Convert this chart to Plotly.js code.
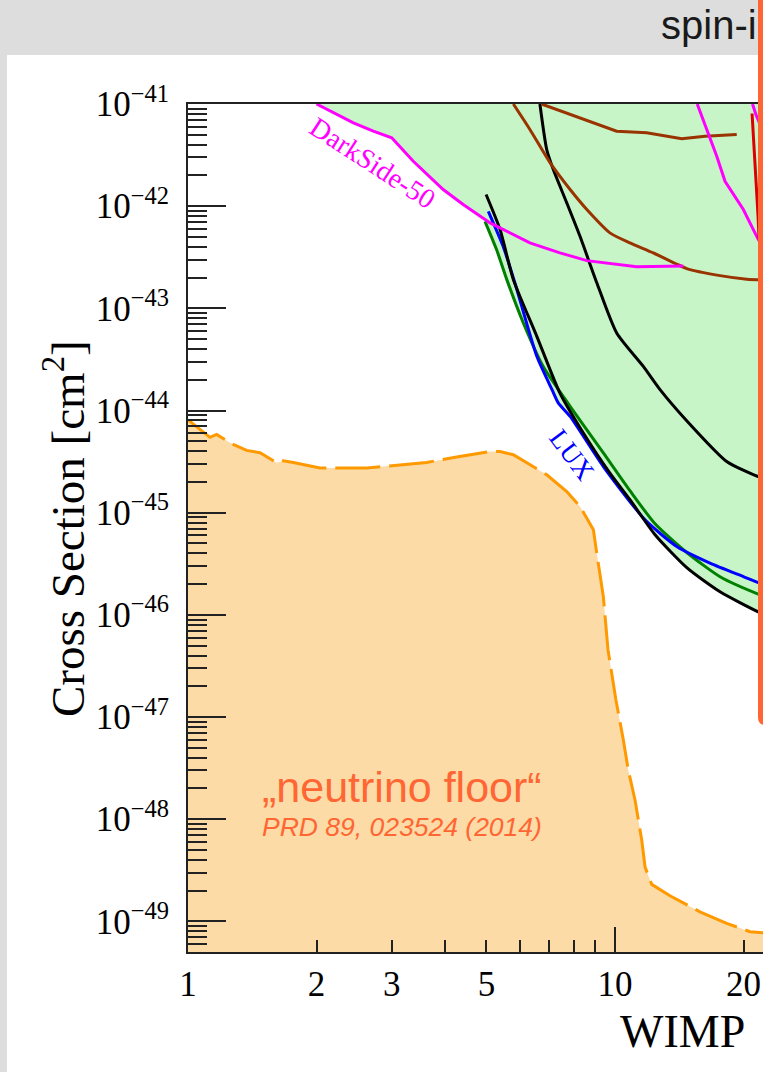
<!DOCTYPE html>
<html>
<head>
<meta charset="utf-8">
<script src="https://cdn.plot.ly/plotly-3.0.1.min.js"></script>
<style>
html,body{margin:0;padding:0;overflow:hidden;background:#dddddd;}
#chart{width:763px;height:1072px;}
</style>
</head>
<body>
<div id="chart"></div>
<script>
// ---------------- data (WIMP mass in GeV/c^2, cross section in cm^2) ----------------
const massTickVals  = [1, 2, 3, 5, 10, 20];
const massTickText  = ['1', '2', '3', '5', '10', '20'];
const massMinorVals = [4, 6, 7, 8, 9];
const massLongTick  = [10];

const sigmaTickVals = [1e-41, 1e-42, 1e-43, 1e-44, 1e-45, 1e-46, 1e-47, 1e-48, 1e-49];
const sigmaTickText = ['10<sup>\u221241</sup>', '10<sup>\u221242</sup>', '10<sup>\u221243</sup>',
                       '10<sup>\u221244</sup>', '10<sup>\u221245</sup>', '10<sup>\u221246</sup>',
                       '10<sup>\u221247</sup>', '10<sup>\u221248</sup>', '10<sup>\u221249</sup>'];

// neutrino floor (PRD 89, 023524)
const nuMass  = [1.00, 1.126, 1.167, 1.266, 1.372, 1.475, 1.614, 1.672, 1.765, 1.931, 2.038, 2.62, 2.92,
                 3.62, 4.26, 5.10, 5.38, 5.78, 6.92, 7.71, 8.28, 8.90, 9.06, 9.39, 9.63, 10.05, 10.46,
                 10.74, 11.14, 11.55, 11.76, 12.19, 13.45, 15.81, 18.26, 20.72, 22.22, 25.0];
const nuSigma = [8.1e-45, 5.46e-45, 5.83e-45, 4.73e-45, 4.07e-45, 3.86e-45, 3.08e-45, 3.22e-45, 3.10e-45,
                 2.84e-45, 2.74e-45, 2.74e-45, 2.84e-45, 3.10e-45, 3.51e-45, 3.97e-45, 3.97e-45, 3.69e-45,
                 2.35e-45, 1.61e-45, 1.15e-45, 6.81e-46, 4.05e-46, 1.51e-46, 4.54e-47, 1.47e-47, 5.97e-48,
                 3.03e-48, 1.54e-48, 6.25e-49, 3.40e-49, 2.30e-49, 1.78e-49, 1.24e-49, 9.57e-50, 7.91e-50,
                 7.74e-50, 7.6e-50];

// boundary of the excluded (green) region
const exclMass  = [2.00, 2.44, 2.716, 3.0, 3.37, 3.96, 4.41, 4.83, 4.96, 5.28, 5.58, 6.10, 6.79, 7.37, 7.85,
                   9.39, 10.84, 12.41, 14.75, 17.62, 21.86, 24.35, 30, 30, 2.00];
const exclSigma = [1e-41, 6.55e-42, 5.42e-42, 4.67e-42, 2.75e-42, 1.455e-42, 1.04e-42, 8.09e-43, 7.11e-43,
                   3.76e-43, 1.91e-43, 7.19e-44, 2.70e-44, 1.18e-44, 8.75e-45, 2.83e-45, 1.34e-45, 6.08e-46,
                   2.88e-46, 1.68e-46, 1.05e-46, 8.93e-47, 8e-47, 1e-40, 1e-40];

// DarkSide-50 (magenta)
const ds50Mass  = [2.00, 2.44, 2.716, 3.0, 3.37, 3.96, 4.41, 4.83, 5.10, 6.32, 7.43, 8.59, 11.24, 14.45];
const ds50Sigma = [1e-41, 6.55e-42, 5.42e-42, 4.67e-42, 2.75e-42, 1.455e-42, 1.04e-42, 8.09e-43, 6.86e-43,
                   4.37e-43, 3.49e-43, 2.93e-43, 2.55e-43, 2.59e-43];
const magBMass  = [15.58, 16.54, 17.31, 18.10, 19.98, 20.9, 21.66, 23.07];
const magBSigma = [1e-41, 5.22e-42, 3.08e-42, 1.75e-42, 9.27e-43, 6.35e-43, 4.71e-43, 3.0e-43];
const magCMass  = [20.99, 21.38, 21.86];
const magCSigma = [1e-41, 7.89e-42, 6.3e-42];

// brown curves
const brownAMass  = [5.78, 6.32, 7.05, 7.85, 8.59, 9.73, 10.84, 12.29, 14.72, 17.62, 20.35, 23.07];
const brownASigma = [1e-41, 5.63e-42, 2.65e-42, 1.455e-42, 9.27e-43, 5.48e-43, 4.37e-43, 3.49e-43,
                     2.45e-43, 2.09e-43, 1.93e-43, 1.89e-43];
const brownBMass  = [6.73, 7.85, 10.09, 11.86, 14.33, 16.25, 19.28];
const brownBSigma = [1e-41, 7.89e-42, 5.42e-42, 5.22e-42, 4.56e-42, 4.84e-42, 5.03e-42];

// red curve
const redMass  = [20.94, 21.28, 21.63, 21.75];
const redSigma = [8.07e-42, 2.86e-42, 7.96e-43, 4.71e-43];

// black curves
const blackAMass  = [6.67, 6.92, 7.17, 7.71, 8.28, 9.06, 10.09, 11.65, 12.75, 14.72, 18.26, 21.63, 23.7];
const blackASigma = [1e-41, 3.58e-42, 2.28e-42, 1.077e-42, 5.07e-43, 1.79e-43, 5.74e-44, 2.70e-44,
                     1.60e-44, 7.94e-45, 3.17e-45, 2.26e-45, 2.05e-45];
const blackBMass  = [4.99, 5.38, 5.78, 6.56, 7.43, 8.43, 9.73, 10.84, 12.41, 14.75, 17.62, 21.86, 24.35];
const blackBSigma = [1.30e-42, 5.90e-43, 1.91e-43, 5.32e-44, 1.48e-44, 6.03e-45, 2.44e-45, 1.34e-45,
                     6.08e-46, 2.88e-46, 1.68e-46, 1.05e-46, 8.93e-47];

// green curve
const greenMass  = [4.96, 5.28, 5.58, 6.10, 6.79, 7.85, 9.39, 10.84, 12.41, 14.75, 17.62, 21.86, 24.35];
const greenSigma = [7.11e-43, 3.76e-43, 1.91e-43, 7.19e-44, 2.70e-44, 1.10e-44, 3.84e-45, 1.64e-45,
                    7.78e-46, 4.05e-46, 2.36e-46, 1.57e-46, 1.34e-46];

// LUX (blue)
const luxMass  = [5.05, 5.47, 5.83, 6.56, 7.12, 7.37, 7.85, 9.39, 11.76, 13.95, 16.69, 19.98, 21.86, 24.35];
const luxSigma = [8.91e-43, 4.05e-43, 1.77e-43, 3.39e-44, 1.60e-44, 1.18e-44, 8.75e-45, 2.83e-45,
                  8.51e-46, 4.67e-46, 3.21e-46, 2.37e-46, 2.04e-46, 1.84e-46];

// ---------------- layout geometry ----------------
const W = 763, H = 1072, ML = 188, MT = 104, MB = 120, MR = 0;
const PW = W - ML - MR, PH = H - MT - MB;
function xp(px) { return (px - ML) / PW; }
function yp(py) { return (H - MB - py) / PH; }

const serif = 'Liberation Serif, Times New Roman, serif';
const sans  = 'Liberation Sans, Arial, sans-serif';
const axisCol = '#222222';
const accent = '#ff6633';

// minor ticks on the cross-section axis (2..9 x 10^n)
const sigmaMinor = [];
for (let n = -50; n <= -42; n++) {
  for (let k = 2; k <= 9; k++) {
    const v = k * Math.pow(10, n);
    if (Math.log10(v) >= -49.3 && Math.log10(v) <= -41) sigmaMinor.push(v);
  }
}

function line(x, y, color, shape, xaxis) {
  return {x: x, y: y, type: 'scatter', mode: 'lines', xaxis: xaxis || 'x',
          line: {color: color, width: 3, shape: shape || 'linear', smoothing: 0.6},
          hoverinfo: 'skip', showlegend: false, cliponaxis: true};
}

const traces = [
  {x: exclMass, y: exclSigma, type: 'scatter', mode: 'lines', fill: 'toself',
   fillcolor: '#c8f5c8', line: {width: 0, color: 'rgba(0,0,0,0)'}, hoverinfo: 'skip', showlegend: false},
  {x: nuMass, y: nuSigma, type: 'scatter', mode: 'lines', fill: 'tozeroy',
   fillcolor: '#fcdba7', line: {color: '#ff9900', width: 3, dash: '45px,9px'}, hoverinfo: 'skip', showlegend: false},
  line(greenMass, greenSigma, '#008000', 'spline'),
  line(luxMass, luxSigma, '#0000ff', 'spline'),
  line(blackBMass, blackBSigma, '#000000', 'spline'),
  line(blackAMass, blackASigma, '#000000', 'spline'),
  line(brownAMass, brownASigma, '#993300', 'spline'),
  line(brownBMass, brownBSigma, '#993300', 'linear'),
  line(ds50Mass, ds50Sigma, '#ff00ff', 'linear'),
  line(magBMass, magBSigma, '#ff00ff', 'linear'),
  line(magCMass, magCSigma, '#ff00ff', 'linear'),
  line(redMass, redSigma, '#dd0000', 'linear', 'x2')
];

const xRange = [0, PW / 427];

const layout = {
  width: W, height: H, autosize: false,
  margin: {l: ML, r: MR, t: MT, b: MB, pad: 0},
  paper_bgcolor: '#dddddd',
  plot_bgcolor: 'rgba(0,0,0,0)',
  showlegend: false,
  xaxis: {
    type: 'log', range: xRange, showgrid: false, zeroline: false,
    showline: true, linecolor: axisCol, linewidth: 2, mirror: true,
    ticks: 'inside', tickmode: 'array', tickvals: massTickVals, ticktext: massTickText,
    ticklen: 12, tickwidth: 2, tickcolor: axisCol, ticklabelstandoff: 0,
    tickfont: {family: serif, size: 35, color: '#000000'},
    minor: {ticks: 'inside', tickmode: 'array', tickvals: massMinorVals, ticklen: 12, tickwidth: 2, tickcolor: axisCol, showgrid: false}
  },
  xaxis2: {
    type: 'log', range: xRange, overlaying: 'x', anchor: 'y', side: 'bottom',
    showgrid: false, zeroline: false, showline: false,
    ticks: 'inside', tickmode: 'array', tickvals: massLongTick, ticklen: 25, tickwidth: 2, tickcolor: axisCol,
    showticklabels: false
  },
  yaxis: {
    type: 'log', range: [-49.3, -41], showgrid: false, zeroline: false,
    showline: true, linecolor: axisCol, linewidth: 2, mirror: false,
    ticks: 'inside', tickmode: 'array', tickvals: sigmaTickVals, ticktext: sigmaTickText,
    ticklen: 38, tickwidth: 2, tickcolor: axisCol, ticklabelstandoff: 10,
    tickfont: {family: serif, size: 35, color: '#000000'},
    minor: {ticks: 'inside', tickmode: 'array', tickvals: sigmaMinor, ticklen: 19, tickwidth: 2, tickcolor: axisCol, showgrid: false}
  },
  shapes: [
    {type: 'rect', xref: 'paper', yref: 'paper', layer: 'below',
     x0: xp(7), x1: xp(820), y0: yp(55), y1: yp(1100), fillcolor: '#ffffff', line: {width: 0}},
    {type: 'path', xref: 'paper', yref: 'paper', layer: 'above',
     path: 'M ' + xp(758) + ' ' + yp(-5) + ' L ' + xp(758) + ' ' + yp(717) +
           ' Q ' + xp(758) + ' ' + yp(725) + ' ' + xp(765) + ' ' + yp(725) +
           ' L ' + xp(800) + ' ' + yp(725) + ' L ' + xp(800) + ' ' + yp(-5) + ' Z',
     fillcolor: accent, line: {width: 0}}
  ],
  annotations: [
    {text: 'spin-i', xref: 'paper', yref: 'paper', x: xp(659), y: yp(25), xanchor: 'left', yanchor: 'middle',
     showarrow: false, font: {family: sans, size: 40, color: '#1a1a1a'}},
    {text: 'DarkSide-50', xref: 'paper', yref: 'paper', x: xp(372), y: yp(163), xanchor: 'center', yanchor: 'middle',
     textangle: 33, showarrow: false, font: {family: serif, size: 28, color: '#ff00ff'}},
    {text: 'LUX', xref: 'paper', yref: 'paper', x: xp(572), y: yp(455), xanchor: 'center', yanchor: 'middle',
     textangle: 53, showarrow: false, font: {family: serif, size: 27, color: '#0000ff'}},
    {text: '\u201eneutrino floor\u201c', xref: 'paper', yref: 'paper', x: xp(260), y: yp(787), xanchor: 'left', yanchor: 'middle',
     showarrow: false, font: {family: sans, size: 43, color: accent}},
    {text: '<i>PRD 89, 023524 (2014)</i>', xref: 'paper', yref: 'paper', x: xp(260), y: yp(827), xanchor: 'left', yanchor: 'middle',
     showarrow: false, font: {family: sans, size: 26.5, color: accent}},
    {text: 'WIMP', xref: 'paper', yref: 'paper', x: xp(618), y: yp(1031), xanchor: 'left', yanchor: 'middle',
     showarrow: false, font: {family: serif, size: 46, color: '#000000'}},
    {text: 'Cross Section [cm<sup>2</sup>]', xref: 'paper', yref: 'paper', x: xp(64), y: yp(529), xanchor: 'center', yanchor: 'middle',
     textangle: -90, showarrow: false, font: {family: serif, size: 47, color: '#000000'}}
  ]
};

Plotly.newPlot('chart', traces, layout, {displayModeBar: false, staticPlot: true});
</script>
</body>
</html>
